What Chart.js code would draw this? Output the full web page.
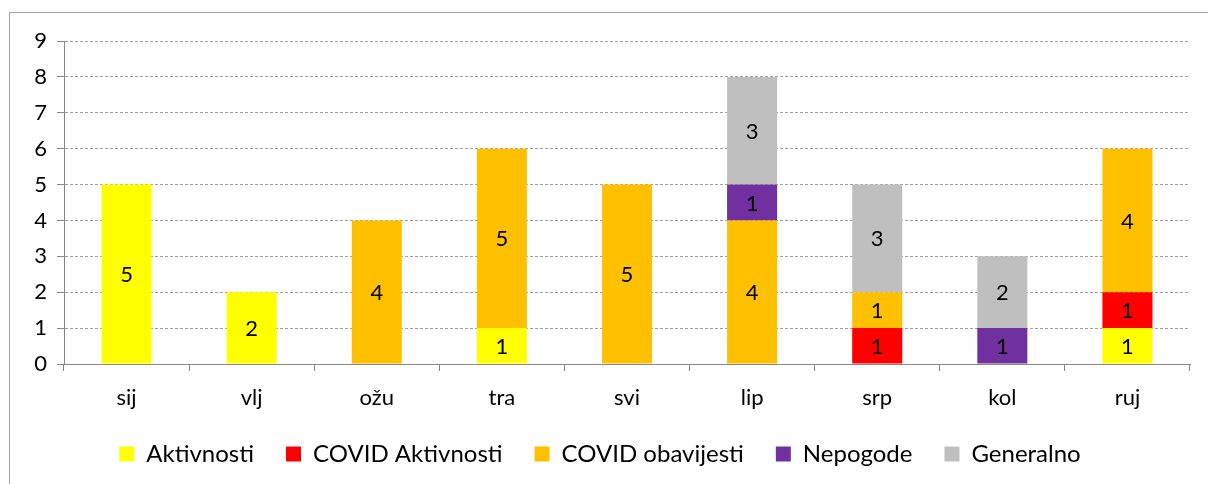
<!DOCTYPE html>
<html>
<head>
<meta charset="utf-8">
<script src="https://cdn.jsdelivr.net/npm/chart.js@4/dist/chart.umd.min.js"></script>
<style>
  html, body { margin: 0; padding: 0; background: #fff; }
  #wrap { position: relative; width: 1208px; height: 484px; }
</style>
</head>
<body>
<div id="wrap"><canvas id="chart" width="1208" height="484"></canvas></div>
<script>
const months = ['sij', 'vlj', 'ožu', 'tra', 'svi', 'lip', 'srp', 'kol', 'ruj'];
const aktivnosti      = [5, 2, 0, 1, 0, 0, 0, 0, 1];
const covidAktivnosti = [0, 0, 0, 0, 0, 0, 1, 0, 1];
const covidObavijesti = [0, 0, 4, 5, 5, 4, 1, 0, 4];
const nepogode        = [0, 0, 0, 0, 0, 1, 0, 1, 0];
const generalno       = [0, 0, 0, 0, 0, 3, 3, 2, 0];

const FONT = 'Lato, "Noto Sans", sans-serif';
const SIZE = 22;

// values printed in the middle of each segment
const barLabels = {
    id: 'barLabels',
    afterDatasetsDraw(chart) {
        const ctx = chart.ctx;
        ctx.save();
        ctx.font = SIZE + 'px ' + FONT;
        ctx.fillStyle = '#000';
        ctx.textAlign = 'center';
        ctx.textBaseline = 'middle';
        chart.data.datasets.forEach((ds, i) => {
            chart.getDatasetMeta(i).data.forEach((bar, j) => {
                const v = ds.data[j];
                if (!v) return;
                ctx.fillText(v, bar.x, (bar.y + bar.base) / 2 + 1);
            });
        });
        ctx.restore();
    }
};

// outer frame like the spreadsheet chart border
const frame = {
    id: 'frame',
    beforeDraw(chart) {
        const ctx = chart.ctx;
        ctx.save();
        ctx.strokeStyle = '#a6a6a6';
        ctx.lineWidth = 1;
        ctx.strokeRect(9.5, 12.5, 1300, 600);
        ctx.restore();
    }
};

new Chart(document.getElementById('chart'), {
    type: 'bar',
    data: {
        labels: months,
        datasets: [
            { label: 'Aktivnosti', data: aktivnosti, backgroundColor: '#ffff00' },
            { label: 'COVID Aktivnosti', data: covidAktivnosti, backgroundColor: '#ff0000' },
            { label: 'COVID obavijesti', data: covidObavijesti, backgroundColor: '#ffc000' },
            { label: 'Nepogode', data: nepogode, backgroundColor: '#7030a0' },
            { label: 'Generalno', data: generalno, backgroundColor: '#bfbfbf' }
        ]
    },
    options: {
        responsive: false,
        animation: false,
        datasets: { bar: { barPercentage: 0.4, categoryPercentage: 1 } },
        layout: { padding: { left: 10, top: 41, right: 18, bottom: 8 } },
        plugins: {
            tooltip: { enabled: false },
            legend: {
                position: 'bottom',
                labels: {
                    font: { family: FONT, size: 24 },
                    color: '#000',
                    boxWidth: 15,
                    boxHeight: 15,
                    padding: 32
                }
            }
        },
        scales: {
            x: {
                stacked: true,
                grid: { drawOnChartArea: false, drawTicks: true, tickLength: 7, color: '#868686', offset: true },
                border: { color: '#868686' },
                ticks: { font: { family: FONT, size: SIZE }, color: '#000', padding: 14 },
                afterFit(scale) { scale.height = 46; }
            },
            y: {
                stacked: true,
                min: 0,
                max: 9,
                grid: { color: '#a0a0a0', tickLength: 7, tickColor: '#868686' },
                border: { color: '#868686', dash: [3, 2] },
                ticks: { stepSize: 1, font: { family: FONT, size: SIZE }, color: '#000', padding: 10 },
                afterFit(scale) { scale.width = 54; }
            }
        }
    },
    plugins: [frame, barLabels]
});
</script>
</body>
</html>
